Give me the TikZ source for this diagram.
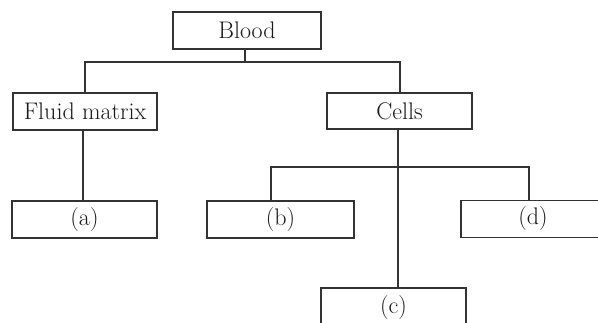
\documentclass[tikz,border=0pt]{standalone}
\usepackage{tikz}
\tikzstyle{box} = [draw=black!80, line width=1.3pt, minimum height=37pt, inner sep=0pt, text=black!90, font={\fontsize{24}{28}\selectfont}]
\tikzstyle{link} = [draw=black!80, line width=1.3pt]

\begin{document}
\begin{tikzpicture}[x=1pt,y=-1pt]
  \clip (0,0) rectangle (598,322);
  \fill[white] (0,0) rectangle (598,322);
  \node[box,minimum width=148pt](blood) at (247,30.5){Blood};
  \node[box,minimum width=144pt](fluid) at (85,111.5){Fluid matrix};
  \node[box,minimum width=145pt,minimum height=36pt](cells) at (399.5,111){Cells};
  \node[box,minimum width=145pt](a) at (84.5,219.5){(a)};
  \node[box,minimum width=147pt](b) at (280.5,219.5){(b)};
  \node[box,minimum width=144pt](d) at (533,219){(d)};
  \node[box,minimum width=145pt,minimum height=40pt](c) at (393.5,308){(c)};
  \coordinate (top) at (245,62);
  \coordinate (jb) at (271,167);
  \coordinate (jd) at (529,167);
  \draw[link](blood.south -| top)--(top);
  \draw[link](fluid.north -| 85,0)|-(top)-|(cells.north -| 400,0);
  \draw[link](fluid.south -| 83,0)--(a.north -| 83,0);
  \draw[link](cells.south -| 398,0)--(c.north -| 398,0);
  \draw[link](b.north -| jb)--(jb)--(jd)--(d.north -| jd);
\end{tikzpicture}
\end{document}
